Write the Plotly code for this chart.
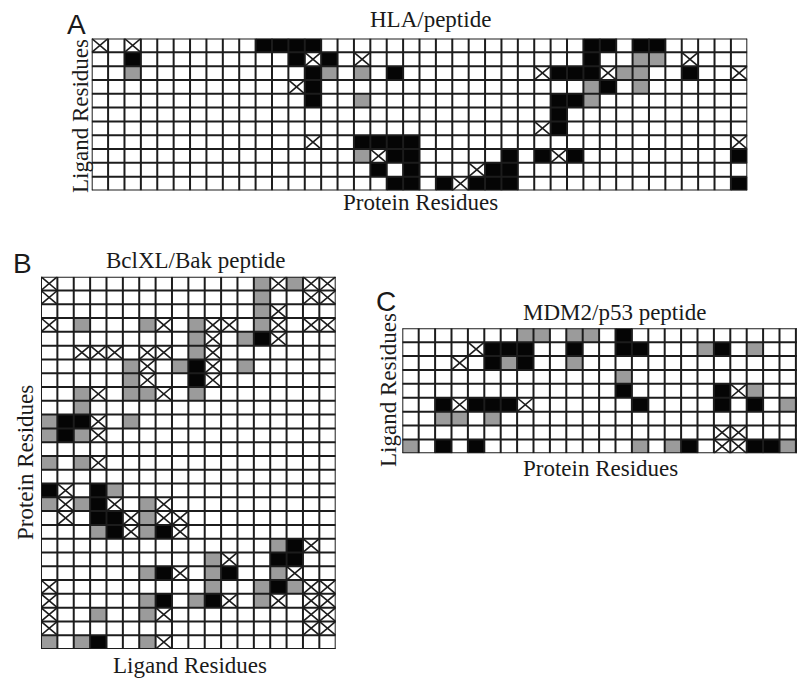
import numpy as np
import plotly.graph_objects as go

W, H = 805, 684
OFF = 8  # page body margin of the browser
FW, FH = W - OFF, H - OFF

# Cell codes: '.' empty, 'g' gray, 'b' black, 'x' crossed
hla_rows = [
    "x.x.......bbbb................bb.bb.....",
    "..b.........bxb.x.............b..gg.x...",
    "..g..........bg.g.b........xbbbxgg..b..x",
    "............xb................gb.g......",
    ".............b..g...........bbg.........",
    "............................b...........",
    "...........................xb...........",
    ".............x..bbbb...................x",
    "................gxbb.....b.bxb.........b",
    ".................b.b...xbb..............",
    "..................bb.bxbbb.............b",
]

bcl_rows = [
    "x............gxgxx",
    "x............g..xx",
    ".............gx...",
    "x.g...gx.gxx.gx.xx",
    ".........gx.gbx...",
    "..xxx.xx.gx.......",
    ".....gx.gbx.g.....",
    ".....gx..bx.......",
    "..gx.ggx.g........",
    "..g...............",
    "gbbx.g............",
    "gbgx..............",
    "..................",
    "g.gx..............",
    "..................",
    "bx.bg.............",
    "gxgbx.gx..........",
    ".x.bbxgxx.........",
    "...gbxgbx.........",
    "..............gbx.",
    "..........gx..bb..",
    "......gbx.gb..gx..",
    "x.........g..gbgxx",
    "x.....gb.gbx.gx.xx",
    "x..g..gx........xx",
    "x...............xx",
    "g.gb..gx..........",
]

mdm_rows = [
    ".......gg.gg.b...........",
    "....xbbb..b..bb...gb.g...",
    "...x.bgb..g..............",
    ".............g...........",
    ".............b.....bxg...",
    "..bxbbbx......b....b.b.gb",
    "..gg.g...................",
    "...................xx....",
    "g.b.b.........g.gb.xxbbgb",
]

titles = ["HLA/peptide", "BclXL/Bak peptide", "MDM2/p53 peptide"]
letters = ["A", "B", "C"]

CODE = {'.': 0, 'g': 1, 'b': 2, 'x': 0}
LINE = '#1c1c1c'
SERIF = "Liberation Serif, Times New Roman, serif"
SANS = "Liberation Sans, Arial, sans-serif"


def fx(px):
    return (px - OFF) / FW


def fy(py):
    return 1 - (py - OFF) / FH


CW = 16.4  # cell width in px
panels = [
    dict(rows=hla_rows, px=(91.7, 747.3), py=(38.5, 190.5)),
    dict(rows=bcl_rows, px=(41.0, 335.7), py=(276.7, 649.0)),
    dict(rows=mdm_rows, px=(402.3, 805.0), py=(328.3, 453.3)),
]

fig = go.Figure()
layout_axes = {}
for i, p in enumerate(panels, start=1):
    rows = p['rows']
    nr = len(rows)
    nc = max(len(r) for r in rows)
    z = np.array([[CODE[ch] for ch in r.ljust(nc, '.')] for r in rows])
    xs = f"x{i if i > 1 else ''}"
    ys = f"y{i if i > 1 else ''}"
    fig.add_trace(go.Heatmap(
        z=z, x=np.arange(nc), y=np.arange(nr), zmin=0, zmax=2,
        colorscale=[[0, 'white'], [0.5, '#9b9b9b'], [1, '#050505']],
        showscale=False, hoverinfo='skip', xaxis=xs, yaxis=ys))
    # grid lines
    gx, gy = [], []
    for k in range(nc + 1):
        gx += [k - 0.5, k - 0.5, None]
        gy += [-0.5, nr - 0.5, None]
    for k in range(nr + 1):
        gx += [-0.5, nc - 0.5, None]
        gy += [k - 0.5, k - 0.5, None]
    fig.add_trace(go.Scatter(x=gx, y=gy, mode='lines',
                             line=dict(color=LINE, width=2),
                             hoverinfo='skip', showlegend=False,
                             xaxis=xs, yaxis=ys))
    # crosses
    cx, cy = [], []
    for r, row in enumerate(rows):
        for c, ch in enumerate(row):
            if ch == 'x':
                cx += [c - 0.5, c + 0.5, None, c - 0.5, c + 0.5, None]
                cy += [r - 0.5, r + 0.5, None, r + 0.5, r - 0.5, None]
    fig.add_trace(go.Scatter(x=cx, y=cy, mode='lines',
                             line=dict(color=LINE, width=1.6),
                             hoverinfo='skip', showlegend=False,
                             xaxis=xs, yaxis=ys))
    x0, x1 = p['px']
    y0, y1 = p['py']
    xr_hi = -0.5 + (x1 - x0) / CW if i == 3 else nc - 0.5
    ax_common = dict(showgrid=False, zeroline=False, showticklabels=False,
                     ticks='', showline=False, fixedrange=True)
    layout_axes[f"xaxis{i if i > 1 else ''}"] = dict(
        domain=[fx(x0), min(1.0, fx(x1))], range=[-0.5, xr_hi], anchor=ys, **ax_common)
    layout_axes[f"yaxis{i if i > 1 else ''}"] = dict(
        domain=[fy(y1), fy(y0)], range=[nr - 0.5, -0.5], anchor=xs, **ax_common)

fig.update_layout(**layout_axes)


def ann(text, px, py, font, size, angle=0):
    return dict(text=text, x=fx(px), y=fy(py), xref='paper', yref='paper',
                xanchor='center', yanchor='middle', showarrow=False,
                textangle=angle, font=dict(family=font, size=size, color='#1a1a1a'))


annotations = [
    ann(letters[0], 76, 25, SANS, 28),
    ann(titles[0], 430, 19, SERIF, 23),
    ann("Ligand Residues", 80, 116, SERIF, 23, -90),
    ann("Protein Residues", 420, 203, SERIF, 23),
    ann(letters[1], 23, 263, SANS, 28),
    ann(titles[1], 196, 261, SERIF, 23),
    ann("Protein Residues", 25, 463, SERIF, 23, -90),
    ann("Ligand Residues", 190, 665, SERIF, 23),
    ann(letters[2], 386, 301, SANS, 28),
    ann(titles[2], 614, 312, SERIF, 23),
    ann("Ligand Residues", 388, 390, SERIF, 23, -90),
    ann("Protein Residues", 600, 468, SERIF, 23),
]

fig.update_layout(width=FW, height=FH, margin=dict(l=0, r=0, t=0, b=0),
                  paper_bgcolor='white', plot_bgcolor='white',
                  showlegend=False, annotations=annotations)

fig.write_html("out.html")
